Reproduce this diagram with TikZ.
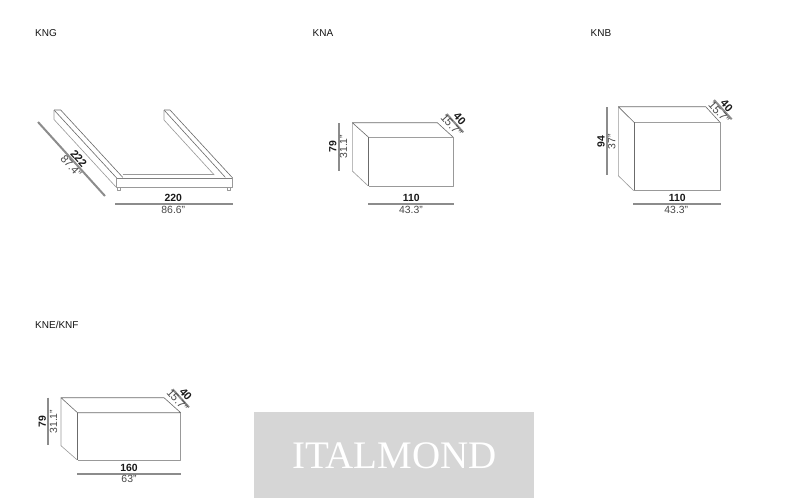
\documentclass[tikz,border=0pt]{standalone}
\usepackage{fontspec}
\setmainfont{Liberation Sans}
\newfontfamily\wmfont{Liberation Serif}
\tikzset{
  outline/.style={draw=black!58,line width=0.6pt,line join=round},
  soft/.style={draw=black!40,line width=0.6pt,line join=round},
  dimline/.style={draw=black!45,line width=2pt},
  title/.style={font=\fontsize{10}{10}\selectfont,text=black!92,inner sep=0pt,anchor=west},
  dimbold/.style={font=\bfseries\fontsize{10.4}{10.4}\selectfont,text=black!90,inner sep=0pt},
  dimlight/.style={font=\fontsize{10.4}{10.4}\selectfont,text=black!72,inner sep=0pt},
  tiltbold/.style={font=\bfseries\fontsize{11}{11}\selectfont,text=black!90,inner sep=0pt,rotate=-48},
  tiltlight/.style={font=\fontsize{11}{11}\selectfont,text=black!72,inner sep=0pt,rotate=-48},
}
\newcommand{\boxsketch}[7]{%
  \draw[outline] (#1,#2) -- (#3,#2) -- (#6,#5) -- (#4,#5) -- cycle;
  \draw[outline] (#4,#5) -- (#4,#7);
  \draw[soft] (#6,#5) -- (#6,#7) -- (#4,#7);
}
\begin{document}
\begin{tikzpicture}[x=1pt,y=-1pt]
\useasboundingbox (0,0) rectangle (789,498);
\fill[white] (0,0) rectangle (789,498);

% KNG
\node[title] (tKNG) at (35,33) {KNG};
\draw[outline] (54,110) -- (60.7,110) -- (122.7,177.3);
\draw[outline] (54,110) -- (116,177.3);
\draw[soft] (54,110) -- (54,119.5) -- (116,187);
\draw[outline] (164,110) -- (170,110) -- (232,177.3);
\draw[outline] (164,110) -- (225.3,177.3);
\draw[soft] (164,110) -- (164,120) -- (214.3,175);
\draw[soft] (122.7,174.5) -- (214.3,174.5);
\draw[draw=black!50,line width=0.9pt] (116,178) -- (232,178);
\draw[soft] (116,177.3) -- (116,187.3) -- (232,187.3) -- (232,177.3);
\draw[soft] (117.3,187.3) rectangle (120,190.6);
\draw[soft] (227.3,187.3) rectangle (230,190.6);
\draw[dimline] (38,122) -- (105,196);
\node[tiltbold] (n222) at (78.8,158.3) {222};
\node[tiltlight] (n874) at (71,166) {87.4"};
\draw[dimline] (115,204.3) -- (232.7,204.3);
\node[dimbold] (n220) at (173.3,198.3) {220};
\node[dimlight] (n866) at (173.3,209.6) {86.6"};

% KNA
\node[title] (tKNA) at (312.5,33) {KNA};
\draw[soft] (352.3,122.7) -- (352.3,171) -- (368.3,186);
\boxsketch{352.3}{122.7}{437.3}{368.6}{137.3}{453.3}{186}
\draw[dimline] (339,123.3) -- (339,170.7);
\node[dimbold,rotate=90] (n79a) at (332.7,146.7) {79};
\node[dimlight,rotate=90] (n311a) at (343.5,146.7) {31.1"};
\draw[dimline] (368.3,204.3) -- (454,204.3);
\node[dimbold] (n110a) at (411.3,198.3) {110};
\node[dimlight] (n433a) at (411,209.6) {43.3"};
\draw[dimline] (446.7,114) -- (463.3,132.3);
\node[tiltbold] (n40a) at (459.8,119) {40};
\node[tiltlight] (n157a) at (451.3,125) {15.7"};

% KNB
\node[title] (tKNB) at (590.5,33) {KNB};
\draw[soft] (618.3,106.7) -- (618.3,175.7) -- (633.7,190.7);
\boxsketch{618.3}{106.7}{705.7}{634}{122.3}{720}{190.7}
\draw[dimline] (606.7,107.3) -- (606.7,175);
\node[dimbold,rotate=90] (n94) at (601,141.7) {94};
\node[dimlight,rotate=90] (n37) at (611.7,141.7) {37"};
\draw[dimline] (633.3,204.3) -- (721,204.3);
\node[dimbold] (n110b) at (677.3,198.3) {110};
\node[dimlight] (n433b) at (676.3,209.6) {43.3"};
\draw[dimline] (714,100) -- (731.7,119.3);
\node[tiltbold] (n40b) at (726.7,105.7) {40};
\node[tiltlight] (n157b) at (719,112.3) {15.7"};

% KNE/KNF
\node[title] (tKNE) at (35,325) {KNE/KNF};
\draw[soft] (61,397.7) -- (61,445.7) -- (77.3,460);
\boxsketch{61}{397.7}{164}{77.5}{412.7}{180.7}{460}
\draw[dimline] (48.3,397.7) -- (48.3,445);
\node[dimbold,rotate=90] (n79e) at (42.3,421.7) {79};
\node[dimlight,rotate=90] (n311e) at (53.5,421.7) {31.1"};
\draw[dimline] (77.3,474) -- (180.7,474);
\node[dimbold] (n160) at (129,467.7) {160};
\node[dimlight] (n63) at (129,479.3) {63"};
\draw[dimline] (172.7,389.3) -- (189,407.3);
\node[tiltbold] (n40e) at (185.7,394.3) {40};
\node[tiltlight] (n157e) at (177.3,400) {15.7"};

% watermark
\fill[black!16] (254,412.3) rectangle (534,498);
\node[font=\wmfont\fontsize{39}{39}\selectfont,text=white,inner sep=0pt] (wm) at (394.5,455.5) {ITALMOND};
\end{tikzpicture}
\end{document}
